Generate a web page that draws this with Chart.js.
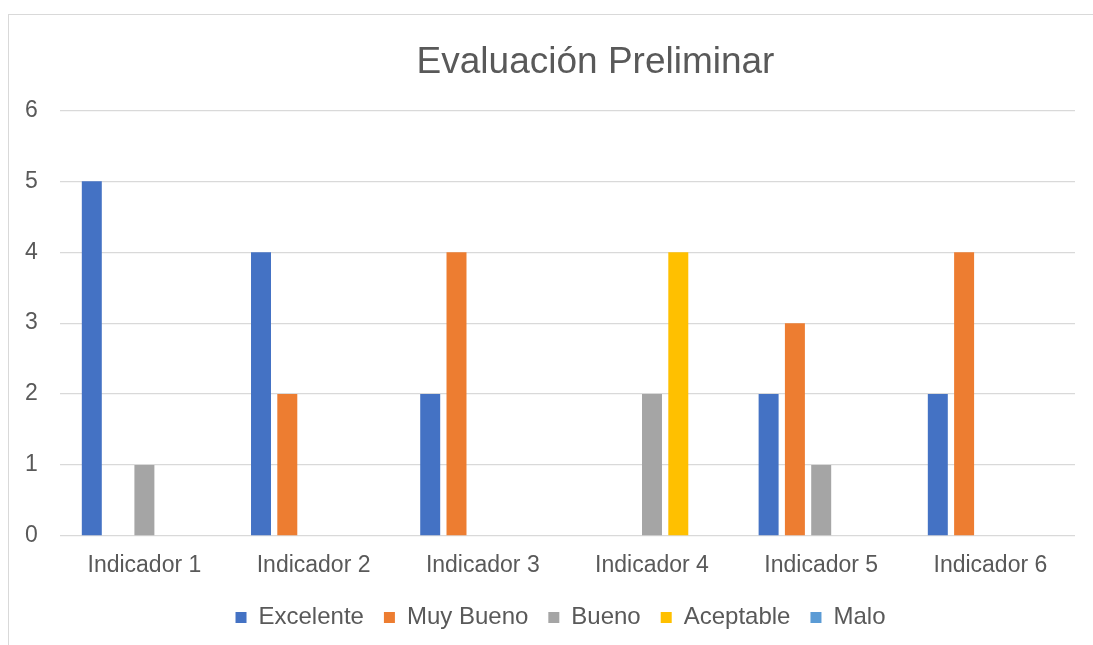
<!DOCTYPE html>
<html>
<head>
<meta charset="utf-8">
<script src="https://cdn.jsdelivr.net/npm/chart.js@4"></script>
<style>
  html, body { margin: 0; padding: 0; background: #fff; overflow: hidden; }
  #wrap { position: relative; width: 1093px; height: 645px; overflow: hidden; }
  #frame { position: absolute; left: 8px; top: 14px; width: 1200px; height: 700px;
           border-left: 1px solid #d9d9d9; border-top: 1px solid #d9d9d9; }
  #chart { position: absolute; left: 0; top: 0; }
</style>
</head>
<body>
<div id="wrap">
  <div id="frame"></div>
  <canvas id="chart" width="1093" height="680"></canvas>
</div>
<script>
const categories = ["Indicador 1", "Indicador 2", "Indicador 3", "Indicador 4", "Indicador 5", "Indicador 6"]
const seriesNames = ["Excelente", "Muy Bueno", "Bueno", "Aceptable", "Malo"]
const excelente = [5, 4, 2, 0, 2, 2]
const muyBueno = [0, 2, 4, 0, 3, 4]
const bueno = [1, 0, 0, 2, 1, 0]
const aceptable = [0, 0, 0, 4, 0, 0]
const malo = [0, 0, 0, 0, 0, 0]
const yTicks = [0, 1, 2, 3, 4, 5, 6]

const colors = ["#4472C4", "#ED7D31", "#A5A5A5", "#FFC000", "#5B9BD5"]
const textColor = "#595959"
const fontFamily = "'Liberation Sans', Arial, sans-serif"

// nudge title and legend after layout, without touching the plot area
const boxNudge = {
  id: "boxNudge",
  afterLayout(chart) {
    const t = chart.titleBlock
    if (t) { t.left += 56.5; t.right += 56.5; t.top += 1; t.bottom += 1 }
    const l = chart.legend
    if (l) { l.left += 21.5; l.right += 21.5; l.top -= 2; l.bottom -= 2 }
  }
}

const values = [excelente, muyBueno, bueno, aceptable, malo]

new Chart(document.getElementById("chart"), {
  type: "bar",
  plugins: [boxNudge],
  data: {
    labels: categories,
    datasets: seriesNames.map((name, i) => ({
      label: name,
      data: values[i],
      backgroundColor: colors[i],
      borderWidth: 0,
      categoryPercentage: 0.777,
      barPercentage: 0.76,
    })),
  },
  options: {
    responsive: false,
    animation: false,
    devicePixelRatio: 1,
    layout: { padding: { left: 3, right: 18, top: 0, bottom: 38.5 } },
    plugins: {
      tooltip: { enabled: false },
      title: {
        display: true,
        text: "Evaluación Preliminar",
        color: textColor,
        font: { family: fontFamily, size: 37, weight: "normal" },
        padding: { top: 40, bottom: 26 },
      },
      legend: {
        position: "bottom",
        labels: {
          color: textColor,
          font: { family: fontFamily, size: 24 },
          boxWidth: 11,
          boxHeight: 11,
          padding: 20,
        },
      },
    },
    scales: {
      x: {
        grid: { display: false },
        border: { display: false },
        ticks: { color: textColor, font: { family: fontFamily, size: 23 }, padding: 8, maxRotation: 0 },
      },
      y: {
        min: yTicks[0],
        max: yTicks[yTicks.length - 1],
        grid: { color: "#d9d9d9", lineWidth: 1.3, drawTicks: false },
        border: { display: false },
        ticks: { stepSize: 1, color: textColor, font: { family: fontFamily, size: 23 }, padding: 22 },
      },
    },
  },
})
</script>
</body>
</html>
